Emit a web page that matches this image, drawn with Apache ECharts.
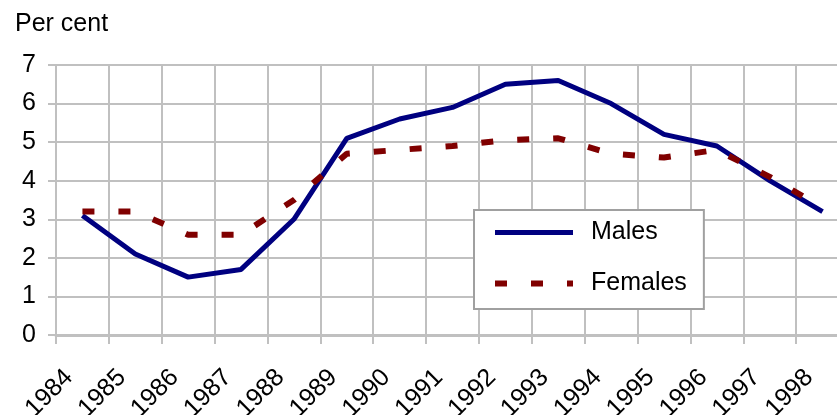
<!DOCTYPE html>
<html>
<head>
<meta charset="utf-8">
<script src="https://cdn.jsdelivr.net/npm/echarts@6/dist/echarts.min.js"></script>
<style>
html,body{margin:0;padding:0;background:#fff;}
#chart{width:837px;height:415px;}
</style>
</head>
<body>
<div id="chart"></div>
<script>
var years = ['1984','1985','1986','1987','1988','1989','1990','1991','1992','1993','1994','1995','1996','1997','1998'];
var males = [3.1, 2.1, 1.5, 1.7, 3.0, 5.1, 5.6, 5.9, 6.5, 6.6, 6.0, 5.2, 4.9, 4.0, 3.2];
var females = [3.2, 3.2, 2.6, 2.6, 3.5, 4.7, 4.8, 4.9, 5.05, 5.1, 4.7, 4.6, 4.8, 4.1, 3.3];
var yTicks = {min: 0, max: 7, interval: 1};
var yTitle = 'Per cent';

var FONT = "'Liberation Sans', Arial, Helvetica, sans-serif";
var FS = 25;
var GRID = '#c0c0c0';
var chart = echarts.init(document.getElementById('chart'), null, {renderer: 'canvas'});
chart.setOption({
  animation: false,
  backgroundColor: '#ffffff',
  textStyle: {fontFamily: FONT},
  title: {
    text: yTitle, left: 10, top: 7,
    textStyle: {fontFamily: FONT, fontSize: FS, fontWeight: 'normal', color: '#000'}
  },
  legend: {
    orient: 'vertical', left: 474, top: 210,
    itemWidth: 78, itemHeight: 24, itemGap: 26,
    padding: [10, 17, 13, 18],
    borderColor: '#a0a0a0', borderWidth: 2, backgroundColor: '#fff',
    itemStyle: {opacity: 0},
    textStyle: {fontFamily: FONT, fontSize: FS, color: '#000', padding: [0, 0, 0, 13]},
    data: [
      {name: 'Males', lineStyle: {width: 5}},
      {name: 'Females', lineStyle: {width: 6}}
    ]
  },
  grid: {left: 56, right: -12, top: 65, bottom: 80, containLabel: false, outerBoundsMode: 'none'},
  xAxis: {
    type: 'category', data: years, boundaryGap: true,
    axisLine: {show: true, lineStyle: {color: GRID, width: 3}},
    axisTick: {show: true, interval: 0, length: 9, lineStyle: {color: GRID, width: 2}},
    splitLine: {show: true, interval: 0, lineStyle: {color: GRID, width: 2}},
    axisLabel: {interval: 0, rotate: 45, fontSize: FS, color: '#000', fontFamily: FONT, margin: 25, padding: [0, 19, 0, 0]}
  },
  yAxis: {
    type: 'value', min: yTicks.min, max: yTicks.max, interval: yTicks.interval,
    axisLine: {show: true, lineStyle: {color: GRID, width: 2}},
    axisTick: {show: true, length: 8, lineStyle: {color: GRID, width: 2}},
    splitLine: {show: true, lineStyle: {color: GRID, width: 2}},
    axisLabel: {fontSize: FS, color: '#000', fontFamily: FONT, margin: 20}
  },
  series: [
    {name: 'Males', type: 'line', data: males, symbol: 'none', smooth: false,
     lineStyle: {color: '#000080', width: 5}, itemStyle: {color: '#000080'}},
    {name: 'Females', type: 'line', data: females, symbol: 'none', smooth: false,
     lineStyle: {color: '#800000', width: 6, type: [12, 24], cap: 'butt'}, itemStyle: {color: '#800000'}}
  ]
});
</script>
</body>
</html>
